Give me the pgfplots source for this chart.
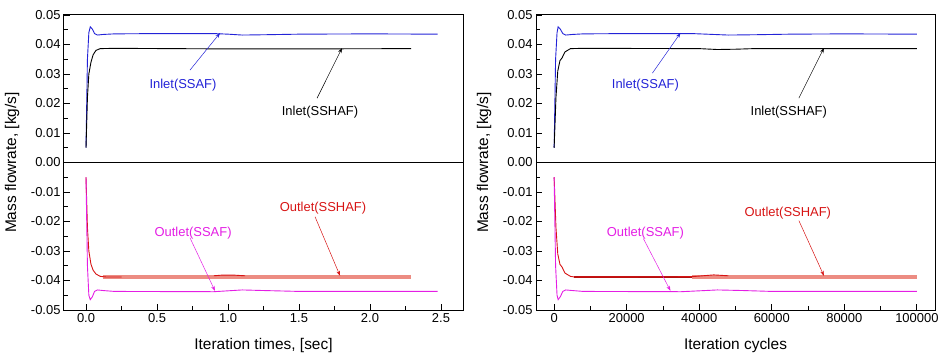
\documentclass[border=0pt]{standalone}
\usepackage{fontspec}
\setmainfont{Liberation Sans}
\usepackage{pgfplots}
\pgfplotsset{compat=1.18}
\usetikzlibrary{arrows.meta}
\definecolor{blueC}{RGB}{35,35,215}
\definecolor{redC}{RGB}{215,20,20}
\definecolor{salmonC}{RGB}{236,140,130}
\definecolor{magC}{RGB}{228,30,228}
\tikzset{
  lbl/.style={font=\fontsize{13}{15}\selectfont},
  arr/.style={-{Stealth[length=5bp,width=3.5bp]}, line width=0.5bp},
}
\pgfplotsset{
  myaxis/.style={
    scale only axis, width=399bp, height=295bp,
    ymin=-0.05, ymax=0.05,
    ytick={-0.05,-0.04,-0.03,-0.02,-0.01,0,0.01,0.02,0.03,0.04,0.05},
    minor x tick num=1, minor y tick num=1,
    tick align=inside, tick pos=left,
    major tick length=6bp, minor tick length=4bp,
    every tick/.style={black, line width=0.8bp},
    axis line style={line width=1bp},
    /pgf/number format/assume math mode=true,
    yticklabel style={/pgf/number format/fixed, /pgf/number format/precision=2, /pgf/number format/fixed zerofill, font=\fontsize{13}{15}\selectfont},
    xticklabel style={font=\fontsize{13}{15}\selectfont},
    label style={font=\fontsize{15.5}{18}\selectfont},
    ylabel={Mass flowrate, [kg/s]},
    ylabel style={at={(axis description cs:-0.130,0.5)}, anchor=center},
    xlabel style={at={(axis description cs:0.5,-0.122)}, anchor=center},
    scaled ticks=false,
    clip=false,
    every axis plot/.append style={line width=0.9bp},
  },
}
\begin{document}
\begin{tikzpicture}
\useasboundingbox (-64bp,-48bp) rectangle (880bp,310bp);
\begin{axis}[myaxis, at={(0bp,0bp)}, anchor=south west,
  xmin=-0.155, xmax=2.655,
  xtick={0,0.5,1,1.5,2,2.5},
  xticklabel style={/pgf/number format/fixed, /pgf/number format/precision=1, /pgf/number format/fixed zerofill},
  xlabel={Iteration times, [sec]}]
\draw[line width=0.8bp] (rel axis cs:0,0.5) -- (rel axis cs:1,0.5);
% Inlet SSAF
\addplot[blueC] coordinates {(0,0.005) (0.01,0.035) (0.02,0.044) (0.03,0.046) (0.045,0.0452) (0.06,0.0437) (0.08,0.0432) (0.12,0.0434) (0.2,0.0436) (0.5,0.0437) (0.9,0.0437) (1.0,0.0435) (1.1,0.0432) (1.25,0.0433) (1.5,0.0435) (2.0,0.0436) (2.477,0.0435)};
% Inlet SSHAF
\addplot[black] coordinates {(0,0.005) (0.01,0.022) (0.02,0.030) (0.035,0.034) (0.05,0.0365) (0.07,0.0380) (0.1,0.0386) (0.2,0.0387) (1.0,0.0385) (1.5,0.0385) (2.29,0.0386)};
% Outlet SSHAF
\addplot[salmonC, line width=3.5bp] coordinates {(0.12,-0.0388) (0.8,-0.0388) (1.2,-0.0388) (2.29,-0.0388)};
\addplot[redC] coordinates {(0,-0.005) (0.01,-0.022) (0.02,-0.030) (0.035,-0.0345) (0.05,-0.0365) (0.07,-0.0378) (0.1,-0.0386) (0.14,-0.0388) (0.25,-0.0388)};
\addplot[redC] coordinates {(0.9,-0.0384) (0.95,-0.0382) (1.05,-0.0382) (1.12,-0.0384)};
% Outlet SSAF
\addplot[magC] coordinates {(0,-0.005) (0.01,-0.035) (0.02,-0.045) (0.03,-0.0465) (0.045,-0.0455) (0.06,-0.0437) (0.08,-0.0432) (0.12,-0.0434) (0.2,-0.0437) (0.9,-0.0438) (1.0,-0.0435) (1.1,-0.0432) (1.25,-0.0434) (1.5,-0.0437) (2.477,-0.0437)};
\node[lbl, text=blueC] at (axis cs:0.683,0.0262) {Inlet(SSAF)};
\draw[arr, blueC] (axis cs:0.732,0.0313) -- (axis cs:0.944,0.0439);
\node[lbl, text=black] at (axis cs:1.648,0.017) {Inlet(SSHAF)};
\draw[arr, black] (axis cs:1.627,0.0218) -- (axis cs:1.803,0.0388);
\node[lbl, text=redC] at (axis cs:1.669,-0.0156) {Outlet(SSHAF)};
\draw[arr, redC] (axis cs:1.613,-0.0184) -- (axis cs:1.789,-0.0384);
\node[lbl, text=magC] at (axis cs:0.754,-0.0238) {Outlet(SSAF)};
\draw[arr, magC] (axis cs:0.732,-0.0255) -- (axis cs:0.908,-0.0435);
\end{axis}
\begin{axis}[myaxis, at={(472bp,0bp)}, anchor=south west,
  xmin=-5000, xmax=105000,
  xtick={0,20000,40000,60000,80000,100000},
  xticklabel style={/pgf/number format/fixed, /pgf/number format/1000 sep={}},
  xlabel={Iteration cycles}]
\draw[line width=0.8bp] (rel axis cs:0,0.5) -- (rel axis cs:1,0.5);
\addplot[blueC] coordinates {(0,0.005) (400,0.035) (800,0.044) (1100,0.046) (1700,0.0452) (2400,0.0437) (3200,0.0432) (5000,0.0434) (8000,0.0436) (20000,0.0437) (38000,0.0437) (42000,0.0435) (48000,0.0432) (55000,0.0433) (65000,0.0435) (80000,0.0436) (100000,0.0435)};
\addplot[black] coordinates {(0,0.005) (500,0.022) (1000,0.031) (1600,0.0345) (2200,0.0355) (3000,0.0375) (4500,0.0386) (8000,0.0387) (40000,0.0386) (45000,0.0383) (50000,0.0384) (55000,0.0386) (100000,0.0386)};
\addplot[salmonC, line width=3.5bp] coordinates {(38000,-0.0388) (60000,-0.0388) (100000,-0.0388)};
\addplot[redC!80!black, line width=1.8bp] coordinates {(5500,-0.0388) (20000,-0.0388) (38000,-0.0388)};
\addplot[redC] coordinates {(0,-0.005) (500,-0.022) (1000,-0.031) (1600,-0.0345) (2200,-0.0355) (3000,-0.0375) (4500,-0.0386) (5500,-0.0388) (38000,-0.0387) (41000,-0.0384) (44000,-0.0381) (48000,-0.0384)};
\addplot[magC] coordinates {(0,-0.005) (400,-0.035) (800,-0.045) (1100,-0.0465) (1700,-0.0455) (2400,-0.0437) (3200,-0.0432) (5000,-0.0434) (8000,-0.0437) (35000,-0.0438) (40000,-0.0435) (45000,-0.0432) (52000,-0.0434) (60000,-0.0437) (100000,-0.0437)};
\node[lbl, text=blueC] at (axis cs:25160,0.0262) {Inlet(SSAF)};
\draw[arr, blueC] (axis cs:27100,0.0303) -- (axis cs:34840,0.0439);
\node[lbl, text=black] at (axis cs:64700,0.017) {Inlet(SSHAF)};
\draw[arr, black] (axis cs:67470,0.0218) -- (axis cs:74380,0.0388);
\node[lbl, text=redC] at (axis cs:64420,-0.0173) {Outlet(SSHAF)};
\draw[arr, redC] (axis cs:67470,-0.0197) -- (axis cs:74380,-0.0384);
\node[lbl, text=magC] at (axis cs:25160,-0.0238) {Outlet(SSAF)};
\draw[arr, magC] (axis cs:24610,-0.0258) -- (axis cs:32070,-0.0435);
\end{axis}
\end{tikzpicture}
\end{document}
